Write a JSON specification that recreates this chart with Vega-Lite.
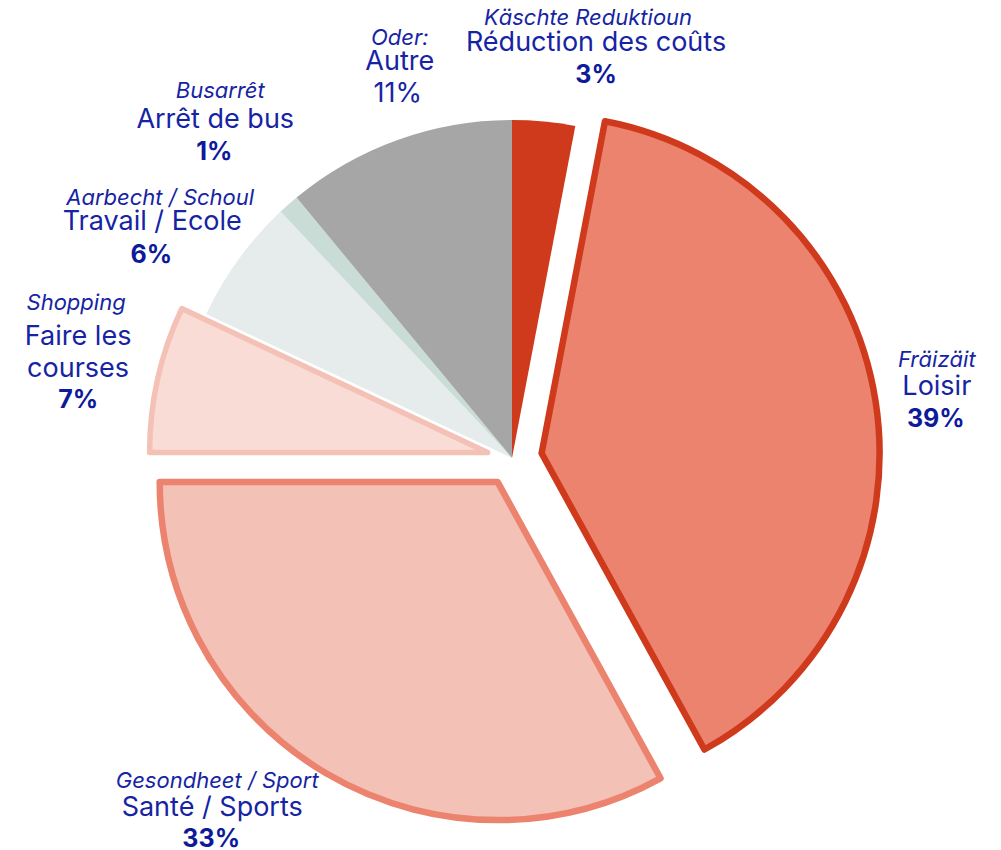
{
  "$schema": "https://vega.github.io/schema/vega-lite/v6.json",
  "width": 978,
  "height": 784,
  "autosize": "none",
  "padding": {"left": 23, "top": 66, "right": 0, "bottom": 0},
  "background": "white",
  "config": {"view": {"stroke": null}, "text": {"font": "Inter"}},
  "data": {
    "values": [
      {"order": 1, "cat": "Réduction des coûts", "lb": "Käschte Reduktioun", "fr": "Réduction des coûts", "value": 3, "pct": "3%"},
      {"order": 2, "cat": "Loisir", "lb": "Fräizäit", "fr": "Loisir", "value": 39, "pct": "39%"},
      {"order": 3, "cat": "Santé / Sports", "lb": "Gesondheet / Sport", "fr": "Santé / Sports", "value": 33, "pct": "33%"},
      {"order": 4, "cat": "Faire les courses", "lb": "Shopping", "fr": "Faire les|courses", "value": 7, "pct": "7%"},
      {"order": 5, "cat": "Travail / Ecole", "lb": "Aarbecht / Schoul", "fr": "Travail / Ecole", "value": 6, "pct": "6%"},
      {"order": 6, "cat": "Arrêt de bus", "lb": "Busarrêt", "fr": "Arrêt de bus", "value": 1, "pct": "1%"},
      {"order": 7, "cat": "Autre", "lb": "Oder:", "fr": "Autre", "value": 11, "pct": "11%"}
    ]
  },
  "transform": [
    {"stack": "value", "groupby": [], "sort": [{"field": "order", "order": "ascending"}], "as": ["start", "end"]}
  ],
  "layer": [
    {
      "transform": [{"filter": "datum.cat !== 'Loisir' && datum.cat !== 'Santé / Sports' && datum.cat !== 'Faire les courses'"}],
      "mark": {"type": "arc", "radius": 338},
      "encoding": {
        "theta": {"field": "start", "type": "quantitative", "stack": null, "scale": {"domain": [0, 100]}},
        "theta2": {"field": "end"},
        "color": {"field": "cat", "type": "nominal", "legend": null, "scale": {"domain": ["Réduction des coûts", "Loisir", "Santé / Sports", "Faire les courses", "Travail / Ecole", "Arrêt de bus", "Autre"], "range": ["#cf3a1c", "#ec836e", "#f4c1b6", "#fadcd6", "#e6ecec", "#c9dcd6", "#a6a6a6"]}}
      }
    },
    {
      "transform": [{"filter": "datum.cat === 'Loisir'"}],
      "mark": {"type": "arc", "radius": 338, "stroke": "#cf3a1c", "strokeWidth": 6.5, "strokeJoin": "round", "xOffset": 29.6, "yOffset": -4.7},
      "encoding": {
        "theta": {"field": "start", "type": "quantitative", "stack": null, "scale": {"domain": [0, 100]}},
        "theta2": {"field": "end"},
        "color": {"field": "cat", "type": "nominal", "legend": null}
      }
    },
    {
      "transform": [{"filter": "datum.cat === 'Santé / Sports'"}],
      "mark": {"type": "arc", "radius": 338, "stroke": "#ec836e", "strokeWidth": 6.5, "strokeJoin": "round", "xOffset": -14.3, "yOffset": 24.1},
      "encoding": {
        "theta": {"field": "start", "type": "quantitative", "stack": null, "scale": {"domain": [0, 100]}},
        "theta2": {"field": "end"},
        "color": {"field": "cat", "type": "nominal", "legend": null}
      }
    },
    {
      "transform": [{"filter": "datum.cat === 'Faire les courses'"}],
      "mark": {"type": "arc", "radius": 338, "stroke": "#f4c1b6", "strokeWidth": 5.5, "strokeJoin": "round", "xOffset": -24.4, "yOffset": -5.5},
      "encoding": {
        "theta": {"field": "start", "type": "quantitative", "stack": null, "scale": {"domain": [0, 100]}},
        "theta2": {"field": "end"},
        "color": {"field": "cat", "type": "nominal", "legend": null}
      }
    },
    {
      "encoding": {
        "theta": {"field": "value", "type": "quantitative", "stack": true, "scale": {"domain": [0, 100]}},
        "order": {"field": "order", "type": "quantitative"}
      },
      "layer": [
        {"mark": {"type": "text", "radius": 420, "dx": 36.5, "dy": -14.8, "align": "center", "baseline": "alphabetic", "fontSize": 22, "fontStyle": "italic", "color": "#1624a3"},
         "encoding": {"text": {"condition": {"test": "datum.cat === 'Réduction des coûts'", "field": "lb", "type": "nominal"}, "value": ""}}},
        {"mark": {"type": "text", "radius": 420, "dx": 44.5, "dy": 11.2, "align": "center", "baseline": "alphabetic", "fontSize": 27, "color": "#1624a3"},
         "encoding": {"text": {"condition": {"test": "datum.cat === 'Réduction des coûts'", "field": "fr", "type": "nominal"}, "value": ""}}},
        {"mark": {"type": "text", "radius": 420, "dx": 44.5, "dy": 43.2, "align": "center", "baseline": "alphabetic", "fontSize": 25, "fontWeight": "bold", "color": "#0d1a9a"},
         "encoding": {"text": {"condition": {"test": "datum.cat === 'Réduction des coûts'", "field": "pct", "type": "nominal"}, "value": ""}}},

        {"mark": {"type": "text", "radius": 420, "dx": 10, "dy": -25, "align": "center", "baseline": "alphabetic", "fontSize": 22, "fontStyle": "italic", "color": "#1624a3"},
         "encoding": {"text": {"condition": {"test": "datum.cat === 'Loisir'", "field": "lb", "type": "nominal"}, "value": ""}}},
        {"mark": {"type": "text", "radius": 420, "dx": 10, "dy": 3, "align": "center", "baseline": "alphabetic", "fontSize": 27, "color": "#1624a3"},
         "encoding": {"text": {"condition": {"test": "datum.cat === 'Loisir'", "field": "fr", "type": "nominal"}, "value": ""}}},
        {"mark": {"type": "text", "radius": 420, "dx": 9, "dy": 35, "align": "center", "baseline": "alphabetic", "fontSize": 25, "fontWeight": "bold", "color": "#0d1a9a"},
         "encoding": {"text": {"condition": {"test": "datum.cat === 'Loisir'", "field": "pct", "type": "nominal"}, "value": ""}}},

        {"mark": {"type": "text", "radius": 420, "dx": -81, "dy": -32, "align": "center", "baseline": "alphabetic", "fontSize": 22, "fontStyle": "italic", "color": "#1624a3"},
         "encoding": {"text": {"condition": {"test": "datum.cat === 'Santé / Sports'", "field": "lb", "type": "nominal"}, "value": ""}}},
        {"mark": {"type": "text", "radius": 420, "dx": -86, "dy": -4, "align": "center", "baseline": "alphabetic", "fontSize": 27, "color": "#1624a3"},
         "encoding": {"text": {"condition": {"test": "datum.cat === 'Santé / Sports'", "field": "fr", "type": "nominal"}, "value": ""}}},
        {"mark": {"type": "text", "radius": 420, "dx": -87, "dy": 27.5, "align": "center", "baseline": "alphabetic", "fontSize": 25, "fontWeight": "bold", "color": "#0d1a9a"},
         "encoding": {"text": {"condition": {"test": "datum.cat === 'Santé / Sports'", "field": "pct", "type": "nominal"}, "value": ""}}},

        {"mark": {"type": "text", "radius": 420, "dx": -26, "dy": -56, "align": "center", "baseline": "alphabetic", "fontSize": 22, "fontStyle": "italic", "color": "#1624a3"},
         "encoding": {"text": {"condition": {"test": "datum.cat === 'Faire les courses'", "field": "lb", "type": "nominal"}, "value": ""}}},
        {"mark": {"type": "text", "radius": 420, "dx": -24, "dy": -21, "align": "center", "baseline": "alphabetic", "fontSize": 27, "lineBreak": "|", "lineHeight": 32, "color": "#1624a3"},
         "encoding": {"text": {"condition": {"test": "datum.cat === 'Faire les courses'", "field": "fr", "type": "nominal"}, "value": ""}}},
        {"mark": {"type": "text", "radius": 420, "dx": -24, "dy": 42, "align": "center", "baseline": "alphabetic", "fontSize": 25, "fontWeight": "bold", "color": "#0d1a9a"},
         "encoding": {"text": {"condition": {"test": "datum.cat === 'Faire les courses'", "field": "pct", "type": "nominal"}, "value": ""}}},

        {"mark": {"type": "text", "radius": 420, "dx": -12, "dy": -6, "align": "center", "baseline": "alphabetic", "fontSize": 22, "fontStyle": "italic", "color": "#1624a3"},
         "encoding": {"text": {"condition": {"test": "datum.cat === 'Travail / Ecole'", "field": "lb", "type": "nominal"}, "value": ""}}},
        {"mark": {"type": "text", "radius": 420, "dx": -20, "dy": 19, "align": "center", "baseline": "alphabetic", "fontSize": 27, "color": "#1624a3"},
         "encoding": {"text": {"condition": {"test": "datum.cat === 'Travail / Ecole'", "field": "fr", "type": "nominal"}, "value": ""}}},
        {"mark": {"type": "text", "radius": 420, "dx": -21, "dy": 52, "align": "center", "baseline": "alphabetic", "fontSize": 25, "fontWeight": "bold", "color": "#0d1a9a"},
         "encoding": {"text": {"condition": {"test": "datum.cat === 'Travail / Ecole'", "field": "pct", "type": "nominal"}, "value": ""}}},

        {"mark": {"type": "text", "radius": 420, "dx": -14, "dy": -45, "align": "center", "baseline": "alphabetic", "fontSize": 22, "fontStyle": "italic", "color": "#1624a3"},
         "encoding": {"text": {"condition": {"test": "datum.cat === 'Arrêt de bus'", "field": "lb", "type": "nominal"}, "value": ""}}},
        {"mark": {"type": "text", "radius": 420, "dx": -19, "dy": -15, "align": "center", "baseline": "alphabetic", "fontSize": 27, "color": "#1624a3"},
         "encoding": {"text": {"condition": {"test": "datum.cat === 'Arrêt de bus'", "field": "fr", "type": "nominal"}, "value": ""}}},
        {"mark": {"type": "text", "radius": 420, "dx": -20, "dy": 17, "align": "center", "baseline": "alphabetic", "fontSize": 25, "fontWeight": "bold", "color": "#0d1a9a"},
         "encoding": {"text": {"condition": {"test": "datum.cat === 'Arrêt de bus'", "field": "pct", "type": "nominal"}, "value": ""}}},

        {"mark": {"type": "text", "radius": 420, "dx": 30, "dy": -18, "align": "center", "baseline": "alphabetic", "fontSize": 22, "fontStyle": "italic", "color": "#1624a3"},
         "encoding": {"text": {"condition": {"test": "datum.cat === 'Autre'", "field": "lb", "type": "nominal"}, "value": ""}}},
        {"mark": {"type": "text", "radius": 420, "dx": 30, "dy": 7, "align": "center", "baseline": "alphabetic", "fontSize": 27, "color": "#1624a3"},
         "encoding": {"text": {"condition": {"test": "datum.cat === 'Autre'", "field": "fr", "type": "nominal"}, "value": ""}}},
        {"mark": {"type": "text", "radius": 420, "dx": 28, "dy": 39, "align": "center", "baseline": "alphabetic", "fontSize": 27, "color": "#1624a3"},
         "encoding": {"text": {"condition": {"test": "datum.cat === 'Autre'", "field": "pct", "type": "nominal"}, "value": ""}}}
      ]
    }
  ]
}
